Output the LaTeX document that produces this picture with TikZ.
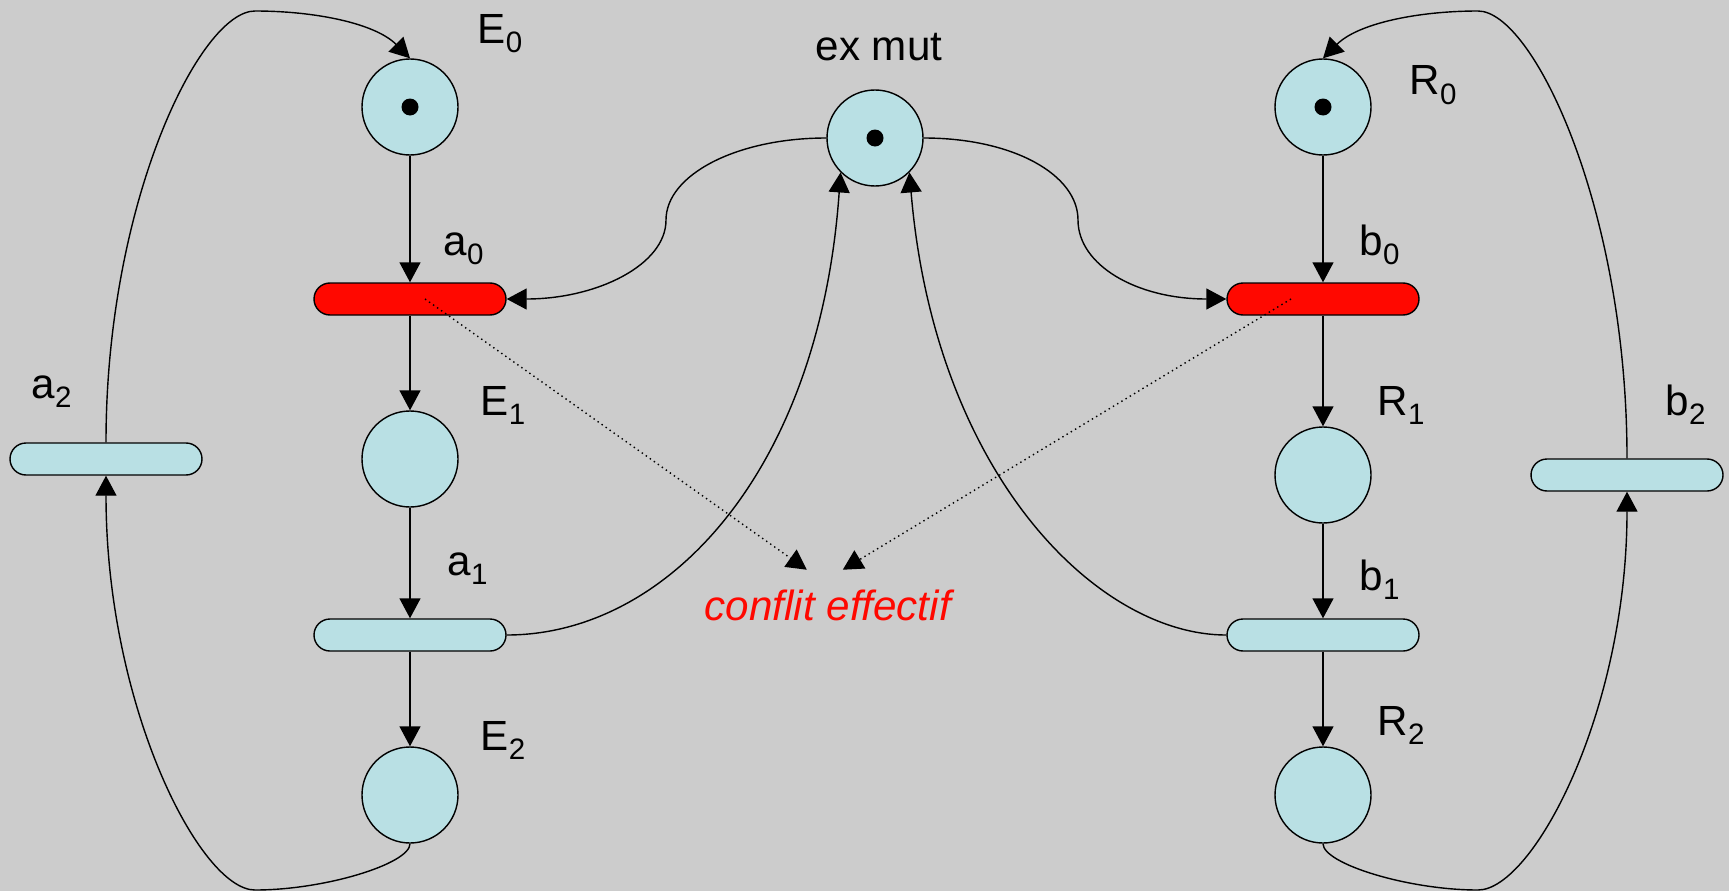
\documentclass[tikz,border=0pt]{standalone}
\usepackage{fontspec}
\setmainfont{Liberation Sans}
\usetikzlibrary{arrows.meta,calc,positioning}
\definecolor{bg}{RGB}{204,204,204}
\definecolor{placefill}{RGB}{185,224,228}
\definecolor{firered}{RGB}{255,8,0}
\newcommand{\pnsub}[1]{\raisebox{-2.8pt}{\fontsize{8.4}{10}\selectfont #1}}

\begin{document}
\begin{tikzpicture}[>={Triangle[length=2mm,width=2.1mm]},
font=\fontsize{12}{14}\selectfont,
place/.style={circle,draw,fill=placefill,minimum size=9.6mm,inner sep=0pt},
trans/.style={rectangle,draw,fill=placefill,rounded corners=1.6mm,minimum width=19.2mm,minimum height=3.2mm,inner sep=0pt},
hot/.style={trans,fill=firered},
lbl/.style={anchor=base west,inner sep=0pt}]
\fill[bg] (0,0) rectangle (17.29,8.91);
\useasboundingbox (0,0) rectangle (17.29,8.91);
\node[place] (E0) at (4.10,7.84) {};
\node[hot] (a0) at (4.10,5.92) {};
\node[place] (E1) at (4.10,4.32) {};
\node[trans] (a1) at (4.10,2.56) {};
\node[place] (E2) at (4.10,0.96) {};
\node[trans] (a2) at (1.06,4.32) {};
\node[place] (R0) at (13.23,7.84) {};
\node[hot] (b0) at (13.23,5.92) {};
\node[place] (R1) at (13.23,4.16) {};
\node[trans] (b1) at (13.23,2.56) {};
\node[place] (R2) at (13.23,0.96) {};
\node[trans] (b2) at (16.27,4.16) {};
\node[place] (mut) at (8.75,7.53) {};
\fill (E0.center) circle (0.085);
\fill (R0.center) circle (0.085);
\fill (mut.center) circle (0.085);
\node[lbl] (lE0) at (4.77,8.48) {E\pnsub{0}};
\node[lbl] (la0) at (4.43,6.36) {a\pnsub{0}};
\node[lbl] (lE1) at (4.80,4.76) {E\pnsub{1}};
\node[lbl] (la1) at (4.47,3.16) {a\pnsub{1}};
\node[lbl] (lE2) at (4.80,1.41) {E\pnsub{2}};
\node[lbl] (la2) at (0.31,4.93) {a\pnsub{2}};
\node[lbl] (lR0) at (14.09,7.96) {R\pnsub{0}};
\node[lbl] (lb0) at (13.59,6.36) {b\pnsub{0}};
\node[lbl] (lR1) at (13.77,4.76) {R\pnsub{1}};
\node[lbl] (lb1) at (13.59,3.01) {b\pnsub{1}};
\node[lbl] (lR2) at (13.77,1.56) {R\pnsub{2}};
\node[lbl] (lb2) at (16.65,4.76) {b\pnsub{2}};
\node[lbl] (lmut) at (8.15,8.31) {ex mut};
\node[lbl,text=firered,font=\fontsize{12}{14}\selectfont\itshape] (conflit) at (7.04,2.71) {conflit effectif};
\draw[->] (E0)--(a0);
\draw[->] (a0)--(E1);
\draw[->] (E1)--(a1);
\draw[->] (a1)--(E2);
\draw[->] (R0)--(b0);
\draw[->] (b0)--(R1);
\draw[->] (R1)--(b1);
\draw[->] (b1)--(R2);
\coordinate (ta) at (2.55,8.80);
\coordinate (ba) at (2.55,0.01);
\coordinate (tb) at (14.78,8.80);
\coordinate (bb) at (14.78,0.01);
\coordinate (ka) at (6.66,6.71);
\coordinate (kb) at (10.78,6.71);
\draw[->] (a2.north) .. controls +(0,2.4) and +(-0.55,0) .. (ta) .. controls +(0.6,0) and +(-0.35,0.35) .. (E0.north);
\draw[->] (E2.south) .. controls +(0,-0.2) and +(0.7,0) .. (ba) .. controls +(-0.55,0) and +(0,-2.3) .. (a2.south);
\draw[->] (b2.north) .. controls +(0,2.5) and +(0.55,0) .. (tb) .. controls +(-0.6,0) and +(0.35,0.35) .. (R0.north);
\draw[->] (R2.south) .. controls +(0,-0.2) and +(-0.7,0) .. (bb) .. controls +(0.55,0) and +(0,-2.2) .. (b2.south);
\draw[->] (mut.west) .. controls +(-0.9,0) and +(0,0.45) .. (ka) .. controls +(0,-0.45) and +(0.9,0) .. (a0.east);
\draw[->] (mut.east) .. controls +(0.9,0) and +(0,0.45) .. (kb) .. controls +(0,-0.45) and +(-0.9,0) .. (b0.west);
\draw[->] (a1.east) .. controls +(1.6,0) and +(-0.21,-3.0) .. (mut.225);
\draw[->] (b1.west) .. controls +(-1.3,0) and +(0.25,-3.0) .. (mut.315);
\draw[densely dotted,->] ([xshift=1.5mm]a0.center) -- ([xshift=-2.1mm,yshift=1.9mm]conflit.north);
\draw[densely dotted,->] ([xshift=-3.2mm]b0.center) -- ([xshift=1.5mm,yshift=1.9mm]conflit.north);
\end{tikzpicture}
\end{document}
